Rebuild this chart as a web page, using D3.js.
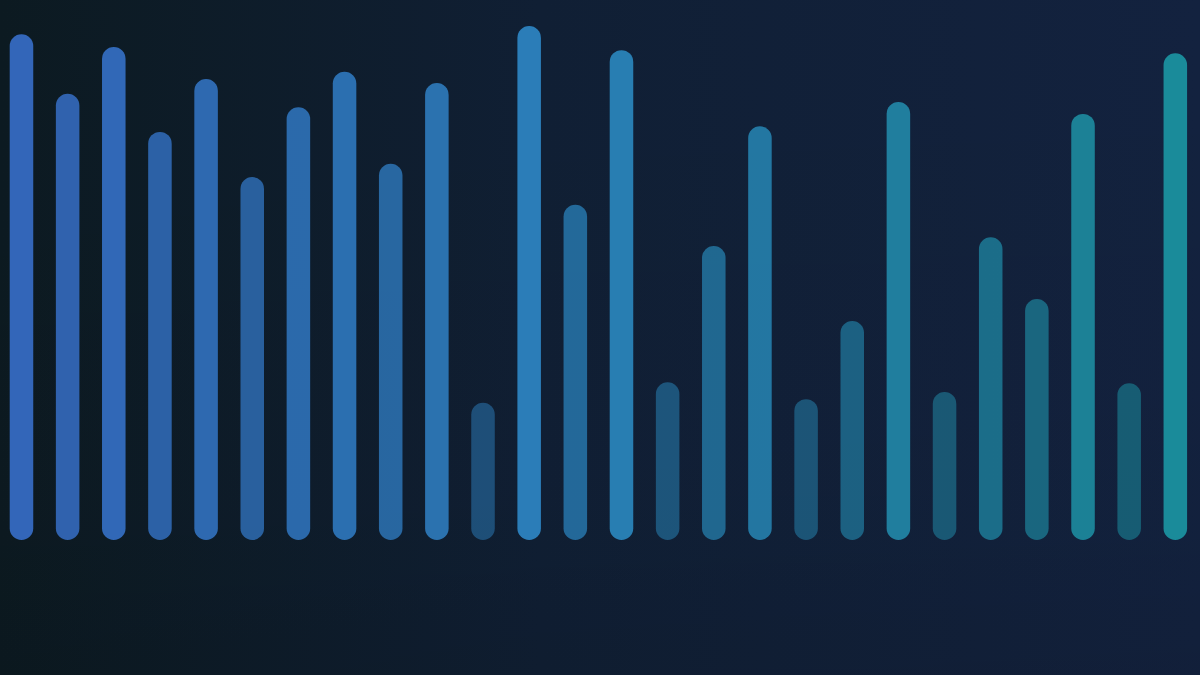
<!DOCTYPE html>
<html>
<head>
<meta charset="utf-8">
<script src="https://cdn.jsdelivr.net/npm/d3@7"></script>
<style>
  html, body { margin: 0; padding: 0; background: #0d1a24; overflow: hidden; }
  svg { display: block; }
</style>
</head>
<body>
<script>
// one bar per slot (0-100)
const categories = d3.range(1, 27).map((i) => "B" + i);
const values = [
  98.4, 86.8, 95.9, 79.4, 89.7, 70.6, 84.2, 91.1, 73.2, 88.9,
  26.7, 100, 65.2, 95.3, 30.7, 57.2, 80.5, 27.4, 42.6, 85.2,
  28.8, 58.9, 46.9, 82.9, 30.5, 94.7
];
const colorStops = ["#3467bb", "#2a80b8", "#1b8f9e"];

const width = 1200;
const height = 675;
const baseline = 540;

const data = categories.map((c, i) => ({ name: c, value: values[i], index: i }));

const svg = d3
  .select("body")
  .append("svg")
  .attr("width", width)
  .attr("height", height);

const defs = svg.append("defs");

// background: dark teal on the left, navy on the right
const bgGrad = defs.append("linearGradient")
  .attr("id", "bg")
  .attr("x1", "0").attr("y1", "0")
  .attr("x2", "1").attr("y2", "0");
bgGrad.append("stop").attr("offset", "0%").attr("stop-color", "#0c1a21");
bgGrad.append("stop").attr("offset", "45%").attr("stop-color", "#101f34");
bgGrad.append("stop").attr("offset", "100%").attr("stop-color", "#13223f");

const shade = defs.append("linearGradient")
  .attr("id", "shade")
  .attr("x1", "0").attr("y1", "0")
  .attr("x2", "0").attr("y2", "1");
shade.append("stop").attr("offset", "0%").attr("stop-color", "#000").attr("stop-opacity", 0);
shade.append("stop").attr("offset", "75%").attr("stop-color", "#000").attr("stop-opacity", 0.03);
shade.append("stop").attr("offset", "100%").attr("stop-color", "#000").attr("stop-opacity", 0.08);

svg.append("rect").attr("width", width).attr("height", height).attr("fill", "url(#bg)");
svg.append("rect").attr("width", width).attr("height", height).attr("fill", "url(#shade)");

const x = d3.scaleBand()
  .domain(categories)
  .range([-1.6, width - 1.6])
  .paddingInner(0.49)
  .paddingOuter(0.245);

const y = d3.scaleLinear().domain([0, 100]).range([baseline, 26]);

const color = d3.scaleLinear()
  .domain([0, (categories.length - 1) / 2, categories.length - 1])
  .range(colorStops)
  .interpolate(d3.interpolateRgb);

// shorter bars are dimmer
const opacity = d3.scaleLinear().domain([0, 100]).range([0.35, 1]);

svg.selectAll("rect.bar")
  .data(data)
  .enter()
  .append("rect")
  .attr("class", "bar")
  .attr("x", (d) => x(d.name))
  .attr("y", (d) => y(d.value))
  .attr("width", x.bandwidth())
  .attr("height", (d) => baseline - y(d.value))
  .attr("rx", x.bandwidth() / 2)
  .attr("ry", x.bandwidth() / 2)
  .attr("fill", (d) => color(d.index))
  .attr("fill-opacity", (d) => opacity(d.value));
</script>
</body>
</html>
